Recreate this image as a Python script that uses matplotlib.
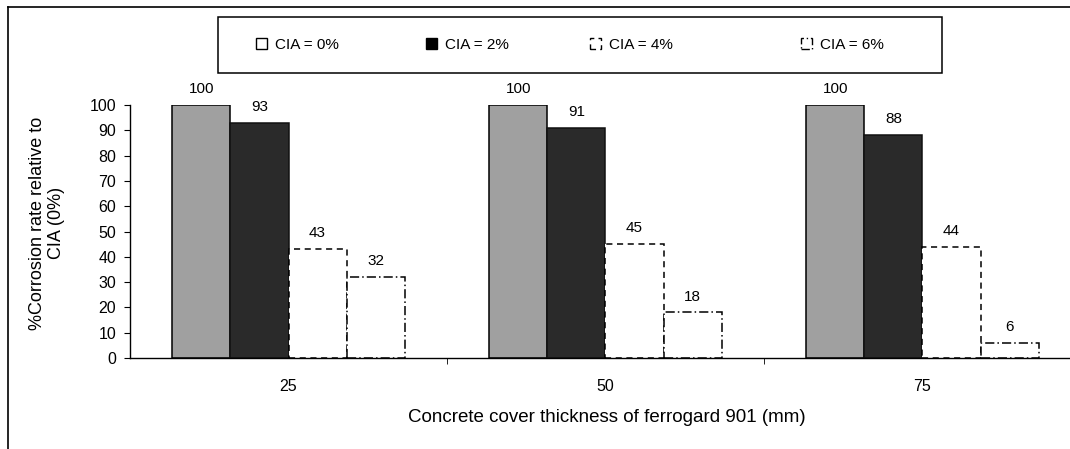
import matplotlib
matplotlib.use("Agg")
import matplotlib.pyplot as plt
import numpy as np
from matplotlib.lines import Line2D
from matplotlib.patches import Patch, Rectangle

plt.rcParams["font.family"] = ["Liberation Sans", "DejaVu Sans"]

# ---- Data -----------------------------------------------------------------
covers = ["25", "50", "75"]
series = ["CIA = 0%", "CIA = 2%", "CIA = 4%", "CIA = 6%"]
cia_0 = [100, 100, 100]
cia_2 = [93, 91, 88]
cia_4 = [43, 45, 44]
cia_6 = [32, 18, 6]
yticks = list(range(0, 101, 10))

# ---- Style ----------------------------------------------------------------
faces = ["#a0a0a0", "#2a2a2a", "white", "white"]
edges = ["black", "#111111", "black", "black"]
styles = ["-", "-", (0, (4, 3)), (0, (6, 2, 1, 2))]
W = 0.183
FW, FH = 1070, 449

fig = plt.figure(figsize=(10.7, 4.49), dpi=100)
ax = fig.add_axes([130 / FW, 1 - 358 / FH, 940 / FW, 253 / FH])

x = np.arange(len(covers))
for i, (vals, fc, ec, ls) in enumerate(zip([cia_0, cia_2, cia_4, cia_6], faces, edges, styles)):
    pos = x + (i - 1.5) * W
    bars = ax.bar(pos, vals, W, color=fc, edgecolor=ec, linewidth=1.1,
                  linestyle=ls, label=series[i], zorder=2)
    for b, v in zip(bars, vals):
        ax.text(b.get_x() + b.get_width() / 2, v + 6.3, f"{v}", ha="center",
                va="center", fontsize=11, clip_on=False)

ax.set_xlim(-0.5, 2.5 - 11 / 317)
ax.set_ylim(0, 100)
ax.set_yticks(yticks)
ax.set_xticks(x)
ax.set_xticklabels(covers, fontsize=11.5)
ax.set_xticks([0.5, 1.5], minor=True)
ax.tick_params(axis="x", which="major", length=0, pad=15)
ax.tick_params(axis="x", which="minor", length=4, direction="out")
ax.tick_params(axis="y", labelsize=11.5, length=4, direction="out", pad=6)
for s in ["top", "right"]:
    ax.spines[s].set_visible(False)
ax.spines["left"].set_linewidth(1.0)
ax.spines["bottom"].set_linewidth(1.0)

ax.set_ylabel("%Corrosion rate relative to\nCIA (0%)", fontsize=13)
ax.yaxis.set_label_coords(-0.069, 0.534)
ax.set_xlabel("Concrete cover thickness of ferrogard 901 (mm)", fontsize=13.5)
ax.xaxis.set_label_coords(0.507, -0.20)

# legend: framed box with four entries
fig.add_artist(Rectangle((218 / FW, 1 - 73 / FH), 724 / FW, 56 / FH,
                         transform=fig.transFigure, fill=False,
                         edgecolor="black", linewidth=1.1))
leg_faces = ["white", "black", "white", "white"]
leg_x = [256, 426, 590, 801]
for lx, fc, ls, lab in zip(leg_x, leg_faces, styles, series):
    h = Patch(facecolor=fc, edgecolor="black", linestyle=ls, linewidth=1)
    fig.legend([h], [lab], loc="center left", bbox_to_anchor=(lx / FW, 1 - 45 / FH),
               frameon=False, fontsize=11, handlelength=0.75, handleheight=0.75,
               handletextpad=0.5, borderpad=0, borderaxespad=0)

# outer frame
fig.add_artist(Line2D([8 / FW, 1.0], [1 - 7 / FH, 1 - 7 / FH], color="black", lw=1.2))
fig.add_artist(Line2D([8 / FW, 8 / FW], [0.0, 1 - 7 / FH], color="black", lw=1.2))

fig.savefig("out.png", dpi=100)
